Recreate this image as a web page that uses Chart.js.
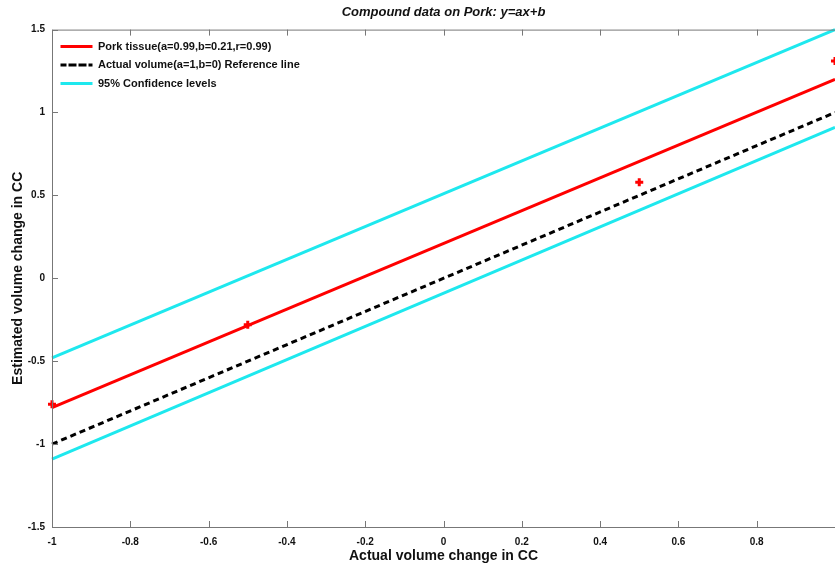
<!DOCTYPE html>
<html>
<head>
<meta charset="utf-8">
<script src="https://cdn.jsdelivr.net/npm/chart.js@4"></script>
<style>
  html, body { margin: 0; padding: 0; background: #fff; }
  #wrap { width: 835px; height: 568px; }
</style>
</head>
<body>
<div id="wrap"><canvas id="chartPork" width="835" height="568"></canvas></div>
<script>
const xEnds = [-1, 1];
const fitLine = [-0.78, 1.2];
const refLine = [-1, 1];
const upperConf = [-0.48, 1.5];
const lowerConf = [-1.09, 0.91];
const measuredX = [-1, -0.5, 0.5, 1];
const measuredY = [-0.76, -0.28, 0.58, 1.31];

const toPoints = (xs, ys) => xs.map((x, i) => ({ x: x, y: ys[i] }));

// legend inside the plot: v4 puts a chartArea legend at top 0, move it down
const legendInside = {
  id: "legendInside",
  afterLayout(chart) {
    const l = chart.legend;
    const a = chart.chartArea;
    l.top = a.top + 4;
    l.bottom = a.bottom;
    l.height = a.bottom - l.top;
    l.left = a.left + 1;
  },
};

// MATLAB style frame with inward tick marks
const frame = {
  id: "frame",
  afterDraw(chart) {
    const { ctx, chartArea: a, scales } = chart;
    ctx.save();
    ctx.strokeStyle = "#777";
    ctx.lineWidth = 1;
    ctx.beginPath();
    ctx.moveTo(a.left + 0.5, a.bottom + 0.5);
    ctx.lineTo(a.left + 0.5, a.top + 0.5);
    ctx.lineTo(a.right + 0.5, a.top + 0.5);
    ctx.moveTo(a.left + 0.5, a.bottom + 0.5);
    ctx.lineTo(a.right + 0.5, a.bottom + 0.5);
    scales.x.ticks.forEach((t) => {
      const px = Math.round(scales.x.getPixelForValue(t.value)) + 0.5;
      ctx.moveTo(px, a.bottom);
      ctx.lineTo(px, a.bottom - 6);
      ctx.moveTo(px, a.top);
      ctx.lineTo(px, a.top + 6);
    });
    scales.y.ticks.forEach((t) => {
      const py = Math.round(scales.y.getPixelForValue(t.value)) + 0.5;
      ctx.moveTo(a.left, py);
      ctx.lineTo(a.left + 6, py);
    });
    ctx.stroke();
    ctx.restore();
  },
};

new Chart(document.getElementById("chartPork"), {
  type: "scatter",
  data: {
    datasets: [
      {
        label: "Pork tissue(a=0.99,b=0.21,r=0.99)",
        data: toPoints(xEnds, fitLine),
        showLine: true,
        borderColor: "#ff0000",
        backgroundColor: "#ff0000",
        borderWidth: 3,
        pointRadius: 0,
      },
      {
        label: "Actual volume(a=1,b=0) Reference line",
        data: toPoints(xEnds, refLine),
        showLine: true,
        borderColor: "#000",
        backgroundColor: "#000",
        borderWidth: 3,
        borderDash: [6, 4],
        pointRadius: 0,
      },
      {
        label: "95% Confidence levels",
        data: toPoints(xEnds, upperConf),
        showLine: true,
        borderColor: "#1ee8ee",
        backgroundColor: "#1ee8ee",
        borderWidth: 3,
        pointRadius: 0,
      },
      {
        label: "lower",
        data: toPoints(xEnds, lowerConf),
        showLine: true,
        borderColor: "#1ee8ee",
        backgroundColor: "#1ee8ee",
        borderWidth: 3,
        pointRadius: 0,
      },
      {
        label: "measured",
        data: toPoints(measuredX, measuredY),
        showLine: false,
        pointStyle: "crossRot",
        rotation: 45,
        pointRadius: 4,
        borderColor: "#ff0000",
        borderWidth: 3,
      },
    ],
  },
  options: {
    responsive: false,
    animation: false,
    clip: false,
    layout: { autoPadding: false, padding: { left: 0, right: -2, top: 0, bottom: 0 } },
    plugins: {
      title: {
        display: true,
        fullSize: false,
        text: "Compound data on Pork: y=ax+b",
        color: "#111",
        font: { family: "Arial, 'Liberation Sans'", size: 13, weight: "bold", style: "italic" },
        padding: { top: 5, bottom: 9 },
      },
      legend: {
        position: "chartArea",
        align: "start",
        labels: {
          filter: (item) => item.datasetIndex < 3,
          boxWidth: 32,
          boxHeight: 0,
          color: "#111",
          padding: 7.5,
          font: { family: "Arial, 'Liberation Sans'", size: 11, weight: "bold" },
        },
      },
      tooltip: { enabled: false },
    },
    scales: {
      x: {
        type: "linear",
        min: -1,
        max: 1,
        ticks: {
          stepSize: 0.2,
          color: "#111",
          maxRotation: 0,
          padding: 1,
          font: { family: "'Liberation Sans Narrow', Arial", size: 10, weight: "bold" },
          callback: (v) => (Math.abs(v - 1) < 1e-9 ? "" : String(Math.round(v * 10) / 10)),
        },
        grid: { display: false },
        border: { display: false },
        title: {
          display: true,
          text: "Actual volume change in CC",
          color: "#111",
          font: { family: "Arial, 'Liberation Sans'", size: 14, weight: "bold" },
          padding: { top: 0, bottom: 3 },
        },
        afterFit: (s) => {
          s.height = 41;
          s.paddingRight = 0;
        },
      },
      y: {
        type: "linear",
        min: -1.5,
        max: 1.5,
        ticks: {
          stepSize: 0.5,
          color: "#111",
          padding: 7,
          font: { family: "'Liberation Sans Narrow', Arial", size: 10, weight: "bold" },
          callback: (v) => String(Math.round(v * 10) / 10),
        },
        grid: { display: false, drawTicks: false },
        border: { display: false },
        title: {
          display: true,
          text: "Estimated volume change in CC",
          color: "#111",
          font: { family: "Arial, 'Liberation Sans'", size: 14, weight: "bold" },
          padding: { top: 10, bottom: 0 },
        },
        afterFit: (s) => { s.width = 52; },
      },
    },
  },
  plugins: [legendInside, frame],
});
</script>
</body>
</html>
